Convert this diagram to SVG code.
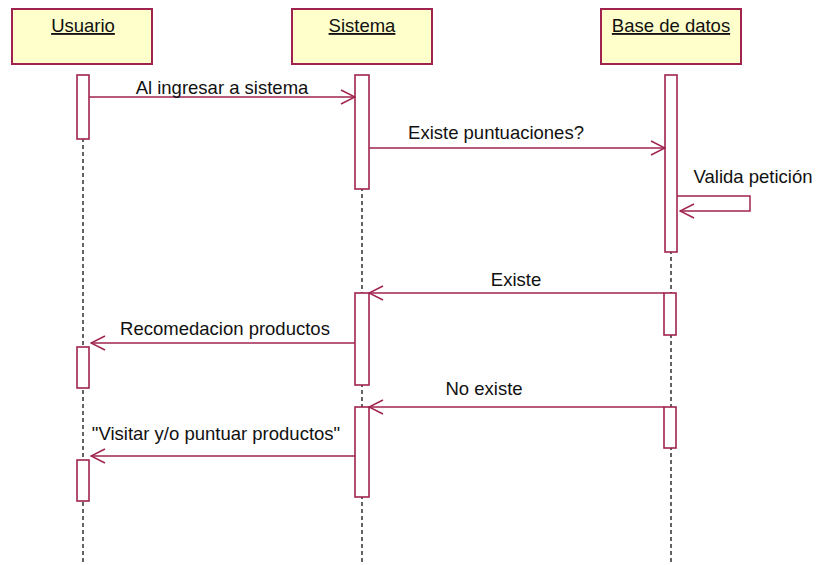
<svg xmlns="http://www.w3.org/2000/svg" width="816" height="565" viewBox="0 0 816 565">
<style>
.obj{fill:#ffffcc;stroke:#a0234f;stroke-width:2}
.act{fill:#ffffff;stroke:#a0234f;stroke-width:1.6}
.life{stroke:#222;stroke-width:1.4;stroke-dasharray:4 3;fill:none}
.msg{stroke:#a0234f;stroke-width:1.5;fill:none}
text{font-family:"Liberation Sans",Arial,sans-serif;font-size:18.5px;fill:#111}
.hd{text-anchor:middle;text-decoration:underline}
.lbl{text-anchor:middle}
</style>
<defs>
<marker id="open" viewBox="0 0 16 16" refX="15" refY="8" markerWidth="16" markerHeight="16" markerUnits="userSpaceOnUse" orient="auto">
<path d="M1,1 L15,8 L1,15" fill="none" stroke="#a0234f" stroke-width="1.5"/>
</marker>
</defs>
<rect width="816" height="565" fill="#fff"/>
<g id="lifelines">
<line class="life" x1="83" y1="75" x2="83" y2="565"/>
<line class="life" x1="362" y1="75" x2="362" y2="565"/>
<line class="life" x1="671" y1="75" x2="671" y2="565"/>
</g>
<g id="usuario">
<rect class="obj" x="12" y="9" width="140" height="55"/>
<text class="hd" x="83" y="32">Usuario</text>
<rect class="act" x="77" y="75" width="12" height="64"/>
<rect class="act" x="77" y="347" width="12" height="41"/>
<rect class="act" x="77" y="460" width="12" height="41"/>
</g>
<g id="sistema">
<rect class="obj" x="292" y="9" width="140" height="55"/>
<text class="hd" x="362" y="32">Sistema</text>
<rect class="act" x="355" y="75" width="14" height="114"/>
<rect class="act" x="355" y="293" width="14" height="92"/>
<rect class="act" x="355" y="407" width="14" height="90"/>
</g>
<g id="basededatos">
<rect class="obj" x="601" y="9" width="140" height="55"/>
<text class="hd" x="671" y="32">Base de datos</text>
<rect class="act" x="665" y="75" width="12" height="177"/>
<rect class="act" x="664" y="293" width="12" height="42"/>
<rect class="act" x="664" y="407" width="12" height="41"/>
</g>
<g id="connectors">
<line class="msg" x1="89" y1="97" x2="355" y2="97" marker-end="url(#open)"/>
<line class="msg" x1="369" y1="148" x2="665" y2="148" marker-end="url(#open)"/>
<polyline class="msg" points="677,196 750,196 750,211 680,211" marker-end="url(#open)"/>
<line class="msg" x1="664" y1="293" x2="369" y2="293" marker-end="url(#open)"/>
<line class="msg" x1="355" y1="343" x2="91" y2="343" marker-end="url(#open)"/>
<line class="msg" x1="664" y1="407" x2="369" y2="407" marker-end="url(#open)"/>
<line class="msg" x1="355" y1="456" x2="91" y2="456" marker-end="url(#open)"/>
</g>
<g id="labels">
<text class="lbl" x="222" y="94">Al ingresar a sistema</text>
<text class="lbl" x="496" y="139">Existe puntuaciones?</text>
<text class="lbl" x="753" y="183">Valida petición</text>
<text class="lbl" x="516" y="286">Existe</text>
<text class="lbl" x="225" y="335">Recomedacion productos</text>
<text class="lbl" x="484" y="395">No existe</text>
<text class="lbl" x="216" y="440">"Visitar y/o puntuar productos"</text>
</g>
</svg>
